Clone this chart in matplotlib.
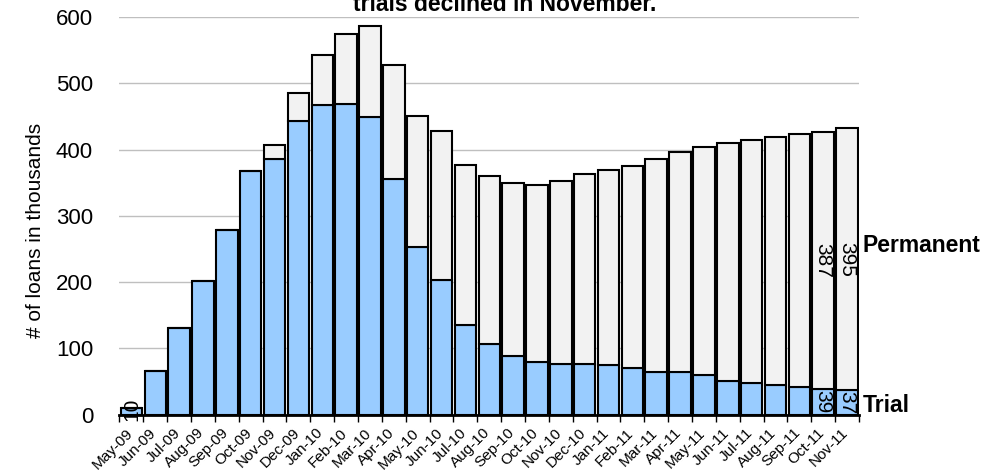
import matplotlib
matplotlib.use("Agg")
import matplotlib.pyplot as plt
import matplotlib.transforms as mtransforms
import numpy as np

months = ["May-09", "Jun-09", "Jul-09", "Aug-09", "Sep-09", "Oct-09", "Nov-09", "Dec-09",
          "Jan-10", "Feb-10", "Mar-10", "Apr-10", "May-10", "Jun-10", "Jul-10", "Aug-10",
          "Sep-10", "Oct-10", "Nov-10", "Dec-10", "Jan-11", "Feb-11", "Mar-11", "Apr-11",
          "May-11", "Jun-11", "Jul-11", "Aug-11", "Sep-11", "Oct-11", "Nov-11"]
trial = [10, 66, 131, 202, 279, 367, 385, 443, 467, 469, 449, 355, 253, 203, 135, 107,
         88, 79, 77, 77, 75, 70, 64, 65, 60, 51, 47, 44, 42, 39, 37]
total = [10, 66, 131, 202, 279, 367, 407, 486, 542, 575, 586, 528, 451, 428, 377, 360,
         349, 346, 352, 363, 369, 375, 385, 396, 404, 410, 414, 419, 424, 426, 432]
permanent = [t - r for t, r in zip(total, trial)]
permanent[-2] = 387
permanent[-1] = 395

plt.rcParams['font.family'] = ['Liberation Sans', 'DejaVu Sans']

fig = plt.figure(figsize=(10.03, 4.70), dpi=100)
ax = fig.add_axes([119.5 / 1003, 1 - 414.6 / 470, (859 - 119.5) / 1003, (414.6 - 17) / 470])

x = np.arange(len(months))
ax.bar(x, trial, width=0.9, color="#99CCFF", edgecolor="black", linewidth=1.5, zorder=3)
ax.bar(x, permanent, width=0.9, bottom=trial, color="#F2F2F2", edgecolor="black",
       linewidth=1.5, zorder=3)

ax.set_xlim(-0.5, len(months) - 0.5)
ax.set_ylim(0, 600)
ax.set_yticks(range(0, 601, 100))
ax.yaxis.grid(True, color="#BFBFBF", linewidth=1)
ax.set_axisbelow(True)
ax.tick_params(axis='y', length=0, pad=19, labelsize=16)

ax.set_xticks(x)
ax.set_xticklabels(months, rotation=45, ha='right', va='top', rotation_mode='anchor',
                   fontsize=11)
ax.tick_params(axis='x', which='major', length=0, pad=8)
offset = mtransforms.ScaledTranslation(-6 / 100, 0, fig.dpi_scale_trans)
for lbl in ax.get_xticklabels():
    lbl.set_transform(lbl.get_transform() + offset)
ax.set_xticks(np.arange(-0.5, len(months), 1), minor=True)
ax.tick_params(axis='x', which='minor', length=5, width=1, color='black')

for s in ['top', 'right', 'left']:
    ax.spines[s].set_visible(False)
ax.spines['bottom'].set_linewidth(2)
ax.spines['bottom'].set_zorder(4)

fig.text(36 / 1003, 1 - 230 / 470, "# of loans in thousands", rotation=90,
         ha='center', va='center', fontsize=15)

# bar labels
ax.text(x[0], trial[0] / 2 + 3, str(trial[0]), rotation=90, ha='center', va='center',
        fontsize=15, zorder=5)
for i in (len(months) - 2, len(months) - 1):
    ax.text(x[i], trial[i] + permanent[i] / 2, str(permanent[i]), rotation=-90,
            ha='center', va='center', fontsize=15, zorder=5)
    ax.text(x[i], trial[i] / 2, str(trial[i]), rotation=-90,
            ha='center', va='center', fontsize=15, zorder=5)

fig.text(863 / 1003, 1 - 246 / 470, "Permanent", ha='left', va='center',
         fontsize=16.5, fontweight='bold')
fig.text(863 / 1003, 1 - 406 / 470, "Trial", ha='left', va='center',
         fontsize=16.5, fontweight='bold')

fig.text(505 / 1003, 1 - 11 / 470, "trials declined in November.", ha='center',
         va='baseline', fontsize=16.5, fontweight='bold')

fig.savefig("out.png", dpi=100)
